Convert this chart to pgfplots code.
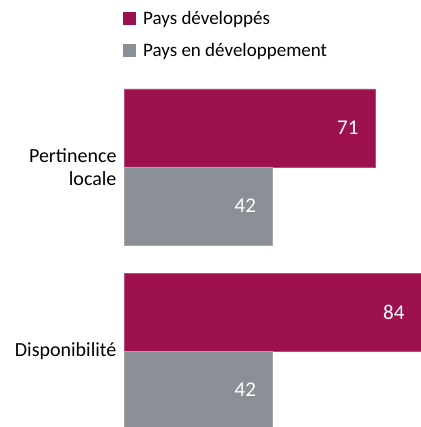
\documentclass[border=0pt]{standalone}
\usepackage{fontspec}
\setmainfont{Carlito}
\usepackage{pgfplots}
\pgfplotsset{compat=1.18}
\definecolor{mag}{HTML}{9D124E}
\definecolor{gry}{HTML}{8B9097}
\begin{document}
\begin{tikzpicture}
\begin{axis}[name=ax, scale only axis, width=297pt, height=427pt,
  xbar, xmin=0, xmax=84, ymin=-0.413, ymax=1.9076,
  bar width=78pt,
  /pgf/number format/assume math mode=true,
  axis line style={draw=none}, major tick length=0pt,
  xtick=\empty, ytick={0,1},
  yticklabels={Disponibilité,{Pertinence\\locale}},
  yticklabel style={align=right, font=\fontsize{20}{23}\selectfont, xshift=-4pt},
  nodes near coords,
  every node near coord/.append style={anchor=east, text=white, xshift=-13pt, font=\fontsize{21}{23}\selectfont},
  legend image code/.code={\path[#1, draw=none] (0pt,-6.5pt) rectangle (13pt,6.5pt);},
  legend style={at={(axis description cs:0,1)}, anchor=north west, draw=none, fill=none,
     inner xsep=0pt, inner ysep=0pt, font=\fontsize{19}{22}\selectfont, row sep=13pt,
     xshift=-1pt, yshift=-9pt, /tikz/every odd column/.append style={column sep=5pt}},
  legend cell align=left,
]
\addplot[fill=mag, draw=mag!75!white, bar shift=39pt] coordinates {(84,0) (71,1)};
\addplot[fill=gry, draw=gry!80!white, bar shift=-39pt] coordinates {(42,0) (42,1)};
\legend{Pays développés, Pays en développement}
\end{axis}
\pgfresetboundingbox
\path[use as bounding box] ([xshift=-124pt]ax.south west) rectangle (ax.north east);
\end{tikzpicture}
\end{document}
